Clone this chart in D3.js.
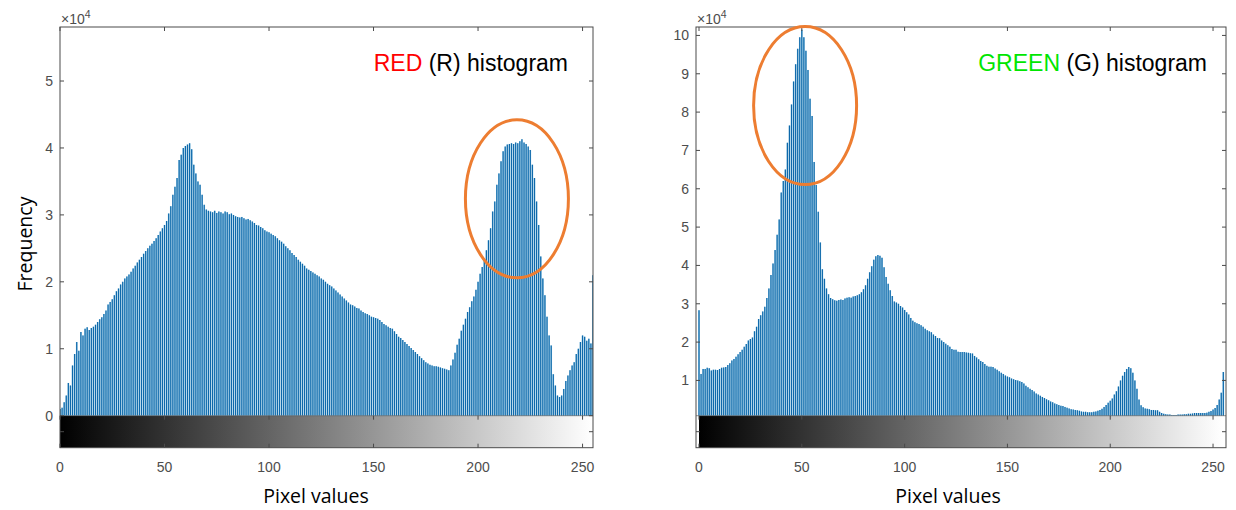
<!DOCTYPE html>
<html><head><meta charset="utf-8">
<script src="https://cdn.jsdelivr.net/npm/d3@7/dist/d3.min.js"></script>
<style>body{margin:0;background:#fff} svg{display:block}</style>
</head><body>
<svg id="chart" width="1236" height="510"></svg>
<script>
// ---------- DATA (frequency in units of 10^4) ----------
const pixelValues = d3.range(256); // categories: pixel values 0..255
const xTickValues = [0, 50, 100, 150, 200, 250];
const redYTicks = [0, 1, 2, 3, 4, 5];
const greenYTicks = [1, 2, 3, 4, 5, 6, 7, 8, 9, 10];
const redCounts = [
0.10,0.12,0.20,0.30,0.49,0.45,0.75,0.92,1.10,0.97,
1.25,1.20,1.30,1.32,1.28,1.31,1.33,1.36,1.40,1.44,
1.47,1.52,1.57,1.66,1.70,1.74,1.80,1.86,1.90,1.96,
2.00,2.05,2.08,2.11,2.15,2.20,2.24,2.29,2.33,2.37,
2.42,2.46,2.50,2.54,2.57,2.61,2.65,2.70,2.75,2.80,
2.85,2.91,3.02,3.13,3.30,3.42,3.55,3.82,3.90,4.00,
4.03,4.05,4.07,3.98,3.75,3.62,3.50,3.45,3.30,3.15,
3.08,3.06,3.05,3.04,3.06,3.03,3.05,3.04,3.02,3.05,
3.04,3.01,3.02,3.00,2.98,2.97,2.96,2.97,2.95,2.93,
2.94,2.92,2.90,2.88,2.85,2.84,2.82,2.80,2.77,2.75,
2.74,2.72,2.70,2.68,2.65,2.62,2.60,2.57,2.53,2.50,
2.47,2.43,2.40,2.37,2.33,2.30,2.27,2.24,2.20,2.18,
2.16,2.14,2.12,2.10,2.08,2.05,2.03,2.00,1.97,1.95,
1.93,1.90,1.87,1.84,1.81,1.78,1.75,1.72,1.69,1.66,
1.65,1.63,1.61,1.60,1.57,1.55,1.53,1.52,1.50,1.48,
1.47,1.46,1.45,1.43,1.40,1.37,1.35,1.33,1.31,1.30,
1.26,1.22,1.18,1.16,1.13,1.10,1.07,1.04,1.01,0.98,
0.95,0.92,0.89,0.86,0.83,0.80,0.78,0.76,0.75,0.74,
0.74,0.73,0.72,0.71,0.70,0.69,0.68,0.75,0.84,0.94,
1.06,1.15,1.27,1.36,1.45,1.55,1.62,1.71,1.78,1.88,
2.00,2.12,2.22,2.33,2.47,2.62,2.80,3.05,3.20,3.45,
3.62,3.80,3.95,4.02,4.05,4.06,4.07,4.06,4.08,4.07,
4.10,4.13,4.08,4.06,4.02,3.97,3.75,3.55,3.20,2.85,
2.38,2.05,1.80,1.48,1.20,1.05,0.62,0.45,0.30,0.28,
0.30,0.40,0.52,0.60,0.68,0.75,0.80,0.92,1.00,1.10,
1.20,1.18,1.12,1.15,1.08,2.10];
const greenCounts = [
2.83,1.17,1.30,1.30,1.33,1.32,1.26,1.28,1.28,1.27,
1.30,1.33,1.34,1.35,1.40,1.45,1.52,1.56,1.62,1.68,
1.74,1.80,1.88,1.95,2.04,2.08,2.12,2.28,2.40,2.60,
2.70,2.80,2.92,3.15,3.40,3.75,4.05,4.40,4.80,5.20,
5.90,6.20,6.50,7.20,7.65,8.20,8.80,9.25,9.65,9.95,
10.15,9.95,9.60,9.10,8.35,7.90,6.70,6.10,5.40,4.60,
3.90,3.65,3.40,3.25,3.15,3.12,3.09,3.08,3.10,3.11,
3.10,3.14,3.16,3.17,3.16,3.19,3.20,3.22,3.25,3.30,
3.38,3.48,3.65,3.82,3.98,4.15,4.24,4.27,4.25,4.20,
3.95,3.70,3.52,3.35,3.20,3.06,3.03,3.00,2.94,2.90,
2.84,2.78,2.72,2.63,2.56,2.52,2.49,2.47,2.44,2.40,
2.35,2.31,2.28,2.26,2.20,2.16,2.11,2.10,2.04,2.00,
1.96,1.92,1.88,1.82,1.80,1.80,1.75,1.74,1.74,1.74,
1.73,1.72,1.71,1.70,1.64,1.60,1.55,1.51,1.48,1.43,
1.38,1.36,1.36,1.35,1.31,1.28,1.24,1.20,1.17,1.13,
1.10,1.08,1.05,1.03,1.01,1.00,0.98,0.96,0.92,0.86,
0.82,0.78,0.75,0.71,0.66,0.63,0.60,0.57,0.54,0.51,
0.48,0.45,0.43,0.40,0.38,0.36,0.34,0.33,0.31,0.29,
0.27,0.25,0.24,0.23,0.22,0.21,0.19,0.18,0.18,0.17,
0.17,0.17,0.18,0.19,0.21,0.23,0.26,0.31,0.36,0.42,
0.47,0.53,0.63,0.72,0.84,1.00,1.12,1.22,1.30,1.35,
1.32,1.20,1.00,0.78,0.50,0.35,0.30,0.27,0.26,0.25,
0.23,0.23,0.22,0.22,0.18,0.15,0.13,0.12,0.11,0.11,
0.10,0.10,0.10,0.11,0.11,0.11,0.12,0.12,0.13,0.13,
0.14,0.15,0.15,0.15,0.15,0.15,0.15,0.16,0.18,0.20,
0.24,0.28,0.36,0.50,0.68,1.22];
const xLabel = "Pixel values";
const yLabel = "Frequency";

// ---------- DRAWING ----------
const svg = d3.select("#chart");
const defs = svg.append("defs");
const grad = defs.append("linearGradient").attr("id", "gray").attr("x1", "0").attr("x2", "1").attr("y1", "0").attr("y2", "0");
grad.append("stop").attr("offset", "0").attr("stop-color", "#000");
grad.append("stop").attr("offset", "1").attr("stop-color", "#fff");

const axisColor = "#4a4a4a";
const labelColor = "#4d4d4d";
const tickFont = "'Liberation Sans', Arial, sans-serif";
const textFont = "'Open Sans', sans-serif";

function panel(o) {
  const x = d3.scaleLinear().domain(o.xDomain).range([o.left, o.right]);
  const y = d3.scaleLinear().domain(o.yDomain).range([o.zeroY, o.top]);
  const g = svg.append("g");
  const clipId = "clip" + o.id;
  defs.append("clipPath").attr("id", clipId).append("rect")
    .attr("x", o.left).attr("y", o.top).attr("width", o.right - o.left).attr("height", o.zeroY - o.top);

  // colorbar
  g.append("rect").attr("x", x(o.cbStart)).attr("y", o.zeroY)
    .attr("width", x(255) - x(o.cbStart)).attr("height", o.cbBottom - o.zeroY)
    .attr("fill", "url(#gray)");

  // bars (stems)
  const bw = x(1) - x(0);
  const ymin = o.yDomain[0];
  const bars = g.append("g").attr("clip-path", `url(#${clipId})`);
  bars.selectAll("rect").data(o.values).join("rect")
    .attr("x", (d, i) => x(pixelValues[i]) - bw / 2 + 0.2)
    .attr("width", bw - 0.4)
    .attr("y", d => y(Math.max(d, ymin)))
    .attr("height", d => o.zeroY - y(Math.max(d, ymin)))
    .attr("fill", "#9ccfe8");
  bars.selectAll("line").data(o.values).join("line")
    .attr("x1", (d, i) => x(pixelValues[i])).attr("x2", (d, i) => x(pixelValues[i]))
    .attr("y1", o.zeroY).attr("y2", d => y(Math.max(d, ymin)))
    .attr("stroke", "#0e68aa").attr("stroke-width", 1.2);

  // frames
  const frame = g.append("g").attr("fill", "none").attr("stroke", axisColor).attr("stroke-width", 1);
  frame.append("rect").attr("x", o.left).attr("y", o.top).attr("width", o.right - o.left).attr("height", o.cbBottom - o.top);
  frame.append("line").attr("x1", o.left).attr("x2", o.right).attr("y1", o.zeroY).attr("y2", o.zeroY).attr("stroke-width", 0.6);

  // ticks: x ticks on top, colorbar top and bottom
  const tk = 4;
  const tickG = g.append("g").attr("stroke", axisColor).attr("stroke-width", 1);
  xTickValues.forEach(v => {
    const xx = x(v);
    tickG.append("line").attr("x1", xx).attr("x2", xx).attr("y1", o.top).attr("y2", o.top + tk);
    tickG.append("line").attr("x1", xx).attr("x2", xx).attr("y1", o.zeroY).attr("y2", o.zeroY + tk);
    tickG.append("line").attr("x1", xx).attr("x2", xx).attr("y1", o.cbBottom).attr("y2", o.cbBottom - tk);
  });
  o.yTicks.forEach(v => {
    const yy = y(v);
    tickG.append("line").attr("x1", o.left).attr("x2", o.left + tk).attr("y1", yy).attr("y2", yy);
    tickG.append("line").attr("x1", o.right).attr("x2", o.right - tk).attr("y1", yy).attr("y2", yy);
  });
  const midY = (o.zeroY + o.cbBottom) / 2;
  tickG.append("line").attr("x1", o.left).attr("x2", o.left + tk).attr("y1", midY).attr("y2", midY);
  tickG.append("line").attr("x1", o.right).attr("x2", o.right - tk).attr("y1", midY).attr("y2", midY);

  // tick labels
  const lab = g.append("g").attr("font-family", tickFont).attr("font-size", 14).attr("fill", labelColor);
  xTickValues.forEach(v => {
    lab.append("text").attr("x", x(v)).attr("y", o.cbBottom + 24).attr("text-anchor", "middle").text(v);
  });
  o.yTicks.forEach(v => {
    lab.append("text").attr("x", o.left - 7).attr("y", y(v) + 5).attr("text-anchor", "end").text(v);
  });
  const mult = lab.append("text").attr("x", o.left + 1).attr("y", 24).attr("font-size", 14);
  mult.append("tspan").text("\u00d710");
  mult.append("tspan").attr("dy", -6).attr("font-size", 10.5).text("4");

  // axis title
  g.append("text").attr("x", o.xLabelX).attr("y", 503).attr("text-anchor", "middle")
    .attr("font-family", textFont).attr("font-size", 19.5).attr("fill", "#000").text(xLabel);

  // histogram title
  const t = g.append("text").attr("x", o.titleRight).attr("y", 71).attr("text-anchor", "end")
    .attr("font-family", "'Liberation Sans', Arial, sans-serif").attr("font-size", 23).attr("fill", "#000");
  t.append("tspan").attr("fill", o.titleColor).text(o.titleWord);
  t.append("tspan").text(" " + o.titleRest);

  // highlight ellipse
  g.append("ellipse").attr("cx", x(o.ellipse[0])).attr("cy", y(o.ellipse[1]))
    .attr("rx", o.ellipse[2]).attr("ry", o.ellipse[3])
    .attr("fill", "none").attr("stroke", "#ed7d31").attr("stroke-width", 3);
}

panel({
  id: "R", left: 60, right: 593, top: 27, zeroY: 415.7, cbBottom: 447.7,
  xDomain: [0, 255], yDomain: [0, 5.807], values: redCounts, yTicks: redYTicks,
  cbStart: 0, xLabelX: 316, titleRight: 568, titleColor: "#ff0000",
  titleWord: "RED", titleRest: "(R) histogram", ellipse: [218.6, 3.24, 51.5, 79]
});
panel({
  id: "G", left: 696, right: 1226, top: 27, zeroY: 415.7, cbBottom: 447.7,
  xDomain: [-1.46, 256.3], yDomain: [0.08, 10.22], values: greenCounts, yTicks: greenYTicks,
  cbStart: 0, xLabelX: 948, titleRight: 1207, titleColor: "#00e600",
  titleWord: "GREEN", titleRest: "(G) histogram", ellipse: [51.6, 8.17, 51.5, 79]
});

// y axis title (left panel only)
svg.append("text").attr("transform", "translate(31.5,244) rotate(-90)").attr("text-anchor", "middle")
  .attr("font-family", textFont).attr("font-size", 19.5).attr("fill", "#000").text(yLabel);
</script>
</body></html>
